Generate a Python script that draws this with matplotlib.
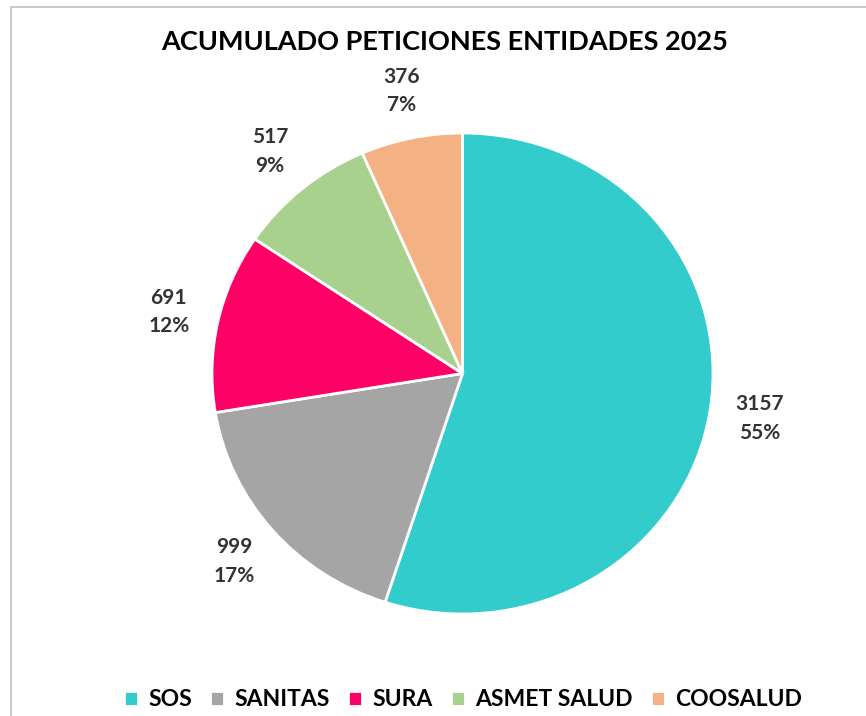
import matplotlib.pyplot as plt
from matplotlib.patches import Rectangle

# data
entidades = ['SOS', 'SANITAS', 'SURA', 'ASMET SALUD', 'COOSALUD']
peticiones = [3157, 999, 691, 517, 376]
porcentajes = ['55%', '17%', '12%', '9%', '7%']
colores = ['#33CCCC', '#A5A5A5', '#FF0066', '#A9D18E', '#F4B183']

plt.rcParams['font.family'] = ['Lato', 'DejaVu Sans']

fig = plt.figure(figsize=(8.66, 7.16), dpi=100)

# light frame of the chart area (right/bottom edges fall outside the image)
fig.patches.append(Rectangle((11 / 866, -0.1), 1.2, 1 - 7 / 716 + 0.1,
                             transform=fig.transFigure, fill=False,
                             edgecolor='#BFBFBF', linewidth=1.2))

ax = fig.add_axes([212 / 866, (716 - 614) / 716, 501 / 866, 481 / 716])

etiquetas = [f'{v}\n{p}' for v, p in zip(peticiones, porcentajes)]
wedges, textos = ax.pie(peticiones, labels=etiquetas, colors=colores,
                        startangle=90, counterclock=False,
                        labeldistance=1.2,
                        wedgeprops={'edgecolor': 'white', 'linewidth': 2},
                        textprops={'fontsize': 15, 'color': '#333333',
                                   'fontweight': 'bold', 'linespacing': 1.55})
for t in textos:
    t.set_ha('center')
    t.set_va('center')
    t.set_clip_on(False)

ax.set_aspect('auto')
ax.set_xlim(-1, 1)
ax.set_ylim(-1, 1)
ax.axis('off')

fig.text(445 / 866, 1 - 42 / 716, 'ACUMULADO PETICIONES ENTIDADES 2025',
         ha='center', va='center', fontsize=19.5, fontweight='bold')

fig.legend(wedges, entidades, loc='center', bbox_to_anchor=(463 / 866, 1 - 700 / 716),
           ncol=5, frameon=False, handlelength=0.6, handleheight=0.6,
           handletextpad=0.45, columnspacing=0.8,
           prop={'size': 16.5, 'weight': 'bold'})

fig.savefig('out.png', dpi=100)
